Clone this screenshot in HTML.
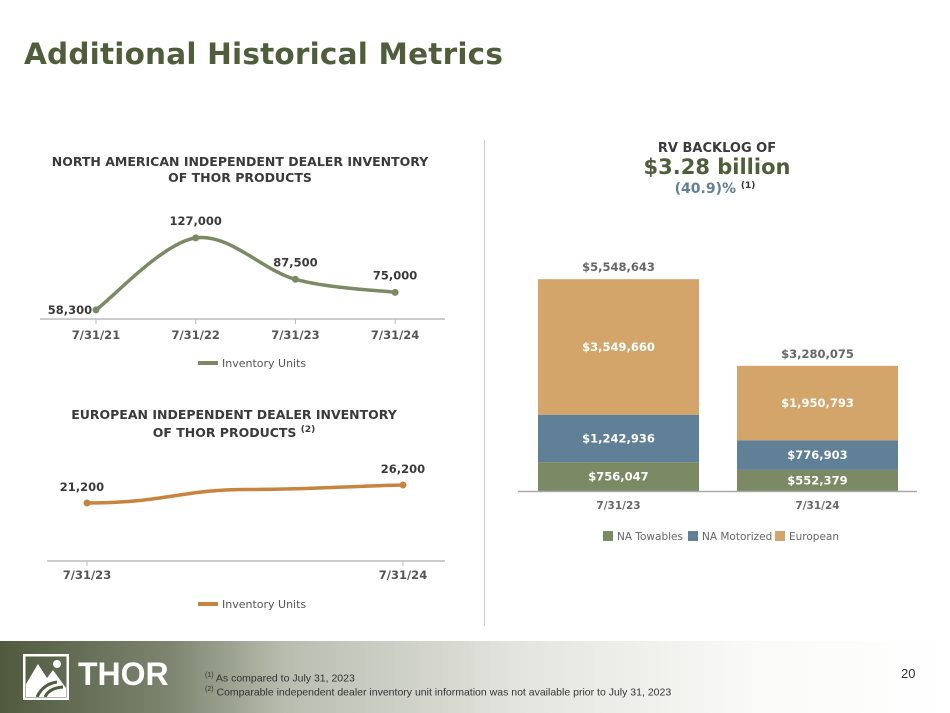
<!DOCTYPE html>
<html><head><meta charset="utf-8"><style>
body{margin:0;width:950px;height:713px;position:relative;background:#fff;font-family:"Liberation Sans","DejaVu Sans",sans-serif;overflow:hidden}
.t{position:absolute;white-space:nowrap}
</style></head><body>
<div class="t" style="left:24px;top:37px;font-size:29.5px;font-weight:bold;color:#4f5e3a;font-family:'DejaVu Sans',sans-serif;letter-spacing:0.2px">Additional Historical Metrics</div>
<div style="position:absolute;left:484px;top:140px;width:1px;height:486px;background:#ccc"></div>
<svg id="s" width="950" height="713" style="position:absolute;left:0;top:0" font-family="DejaVu Sans, sans-serif">
<text x="240" y="166" text-anchor="middle" font-size="12.5" font-weight="bold" fill="#3a3a3a">NORTH AMERICAN INDEPENDENT DEALER INVENTORY</text>
<text x="240" y="182" text-anchor="middle" font-size="12.5" font-weight="bold" fill="#3a3a3a">OF THOR PRODUCTS</text>
<text x="234" y="419" text-anchor="middle" font-size="12.5" font-weight="bold" fill="#3a3a3a">EUROPEAN INDEPENDENT DEALER INVENTORY</text>
<text x="234" y="437" text-anchor="middle" font-size="12.5" font-weight="bold" fill="#3a3a3a">OF THOR PRODUCTS <tspan font-size="9" dy="-5">(2)</tspan></text>
<text x="717" y="152" text-anchor="middle" font-size="13" font-weight="bold" fill="#3a3a3a">RV BACKLOG OF</text>
<text x="717" y="174" text-anchor="middle" font-size="21" font-weight="bold" fill="#4f5e3a">$3.28 billion</text>
<text x="715" y="193" text-anchor="middle" font-size="14" font-weight="bold" fill="#5f8096">(40.9)% <tspan font-size="9" fill="#333" dy="-5">(1)</tspan></text>
<g id="g"></g>
</svg>
<div style="position:absolute;left:0;top:641px;width:950px;height:72px;background:linear-gradient(90deg,#4f5a3e 0%,#7d8570 18%,#b9bdb0 30%,#e4e5df 55%,#fafaf8 80%,#fff 100%)"></div>
<svg width="46" height="46" style="position:absolute;left:23px;top:654px"><rect x="1" y="1" width="44" height="44" fill="none" stroke="#fff" stroke-width="3"/><path d="M3 30 L15 10 L24 24 L30 16 L43 34 L43 43 L3 43Z" fill="#fff"/><path d="M14 43 Q20 30 34 28 M22 43 Q26 34 40 33" stroke="#4f5a3e" stroke-width="3" fill="none"/><circle cx="34" cy="10" r="4" fill="#fff"/></svg>
<div class="t" style="left:78px;top:656px;font-size:32px;font-weight:bold;color:#fff">THOR</div>
<div class="t" style="left:205px;top:672px;font-size:10.5px;color:#333"><sup style="font-size:7px">(1)</sup> As compared to July 31, 2023</div>
<div class="t" style="left:205px;top:686px;font-size:10.5px;color:#333"><sup style="font-size:7px">(2)</sup> Comparable independent dealer inventory unit information was not available prior to July 31, 2023</div>
<div class="t" style="left:901px;top:666px;font-size:13px;color:#333">20</div>
<script>
const naCats=["7/31/21","7/31/22","7/31/23","7/31/24"];
const naVals=[58300,127000,87500,75000];
const naLabels=["58,300","127,000","87,500","75,000"];
const euCats=["7/31/23","7/31/24"];
const euVals=[21200,26200];
const euLabels=["21,200","26,200"];
const barCats=["7/31/23","7/31/24"];
const towables=[756047,552379];
const motorized=[1242936,776903];
const european=[3549660,1950793];
const totals=[5548643,3280075];
const NS="http://www.w3.org/2000/svg";
const g=document.getElementById('g');
function mk(t,a,txt){const e=document.createElementNS(NS,t);for(const k in a)e.setAttribute(k,a[k]);if(txt!=null)e.textContent=txt;g.appendChild(e);return e;}
function fmt(v){return '$'+v.toLocaleString('en-US');}
// NA chart
const naX=i=>96+i*99.7, naY=v=>371-v*0.001048;
mk('line',{x1:40,y1:319,x2:445,y2:319,stroke:'#bbb','stroke-width':1.5});
const pts=naVals.map((v,i)=>[naX(i),naY(v)]);
let d='M'+pts[0];
for(let i=0;i<pts.length-1;i++){const p0=pts[Math.max(0,i-1)],p1=pts[i],p2=pts[i+1],p3=pts[Math.min(pts.length-1,i+2)];
d+=' C'+(p1[0]+(p2[0]-p0[0])/6)+','+(p1[1]+(p2[1]-p0[1])/6)+' '+(p2[0]-(p3[0]-p1[0])/6)+','+(p2[1]-(p3[1]-p1[1])/6)+' '+p2[0]+','+p2[1];}
let e=mk('path',{d:d,fill:'none',stroke:'#7b8a64','stroke-width':3.5});


naVals.forEach((v,i)=>{
 let c=mk('circle',{cx:naX(i),cy:naY(v),r:3.5,fill:'#7b8a64'});
 
 
 const lx=i==0?naX(i)-26:naX(i);
 mk('text',{x:lx,y:naY(v)-(i==0?-4:13),'text-anchor':'middle','font-size':11.5,'font-weight':'bold',fill:'#3a3a3a'},naLabels[i]);
 mk('line',{x1:naX(i),y1:319,x2:naX(i),y2:324,stroke:'#bbb'});
 mk('text',{x:naX(i),y:339,'text-anchor':'middle','font-size':11.5,'font-weight':'bold',fill:'#555'},naCats[i]);
});
mk('rect',{x:198,y:361,width:20,height:4,fill:'#7b8a64'});
mk('text',{x:222,y:367,'font-size':11,fill:'#555'},'Inventory Units');
// EU chart
const euX=i=>87+i*316, euY=v=>579.3-v*0.0036;
mk('line',{x1:47,y1:561,x2:445,y2:561,stroke:'#bbb','stroke-width':1.5});
const a=[euX(0),euY(euVals[0])],b=[euX(1),euY(euVals[1])];
const span=b[0]-a[0], rise=b[1]-a[1];
const m1=[a[0]+span*0.5,a[1]+rise*0.75];
e=mk('path',{d:`M${a} C${a[0]+span*0.25},${a[1]} ${a[0]+span*0.3},${m1[1]} ${m1} C${a[0]+span*0.7},${m1[1]} ${a[0]+span*0.85},${b[1]+1} ${b}`,fill:'none',stroke:'#c8843f','stroke-width':3.5});


euVals.forEach((v,i)=>{
 let c=mk('circle',{cx:euX(i),cy:euY(v),r:3.5,fill:'#c8843f'});
 
 
 mk('text',{x:euX(i)-(i==0?5:0),y:euY(v)-12,'text-anchor':'middle','font-size':11.5,'font-weight':'bold',fill:'#3a3a3a'},euLabels[i]);
 mk('line',{x1:euX(i),y1:561,x2:euX(i),y2:566,stroke:'#bbb'});
 mk('text',{x:euX(i),y:579,'text-anchor':'middle','font-size':11.5,'font-weight':'bold',fill:'#555'},euCats[i]);
});
mk('rect',{x:198,y:602,width:20,height:4,fill:'#c8843f'});
mk('text',{x:222,y:608,'font-size':11,fill:'#555'},'Inventory Units');
// Bars
const base=491, sc=211.8/5548643, bx=i=>538+i*199, bw=161;
const series=[[towables,'#7b8a64','towables'],[motorized,'#5f8096','motorized'],[european,'#d4a56a','european']];
barCats.forEach((c,i)=>{
 let y=base;
 series.forEach(([arr,col,nm])=>{
  const h=arr[i]*sc; y-=h;
  let r=mk('rect',{x:bx(i),y:y,width:bw,height:h,fill:col});
  
  
  mk('text',{x:bx(i)+bw/2,y:y+h/2+4,'text-anchor':'middle','font-size':11.5,'font-weight':'bold',fill:'#fff'},fmt(arr[i]));
 });
 mk('text',{x:bx(i)+bw/2,y:base-totals[i]*sc-8,'text-anchor':'middle','font-size':11.5,'font-weight':'bold',fill:'#666'},fmt(totals[i]));
 mk('text',{x:bx(i)+bw/2,y:509,'text-anchor':'middle','font-size':10.5,'font-weight':'bold',fill:'#666'},c);
});
mk('line',{x1:518,y1:base+0.5,x2:917,y2:base+0.5,stroke:'#aaa','stroke-width':1.5});
[['NA Towables','#7b8a64',603],['NA Motorized','#5f8096',688],['European','#d4a56a',775]].forEach(([t,c,x])=>{
 mk('rect',{x:x,y:531,width:10,height:10,fill:c});
 mk('text',{x:x+14,y:540,'font-size':10.5,fill:'#666'},t);
});
</script>
</body></html>
